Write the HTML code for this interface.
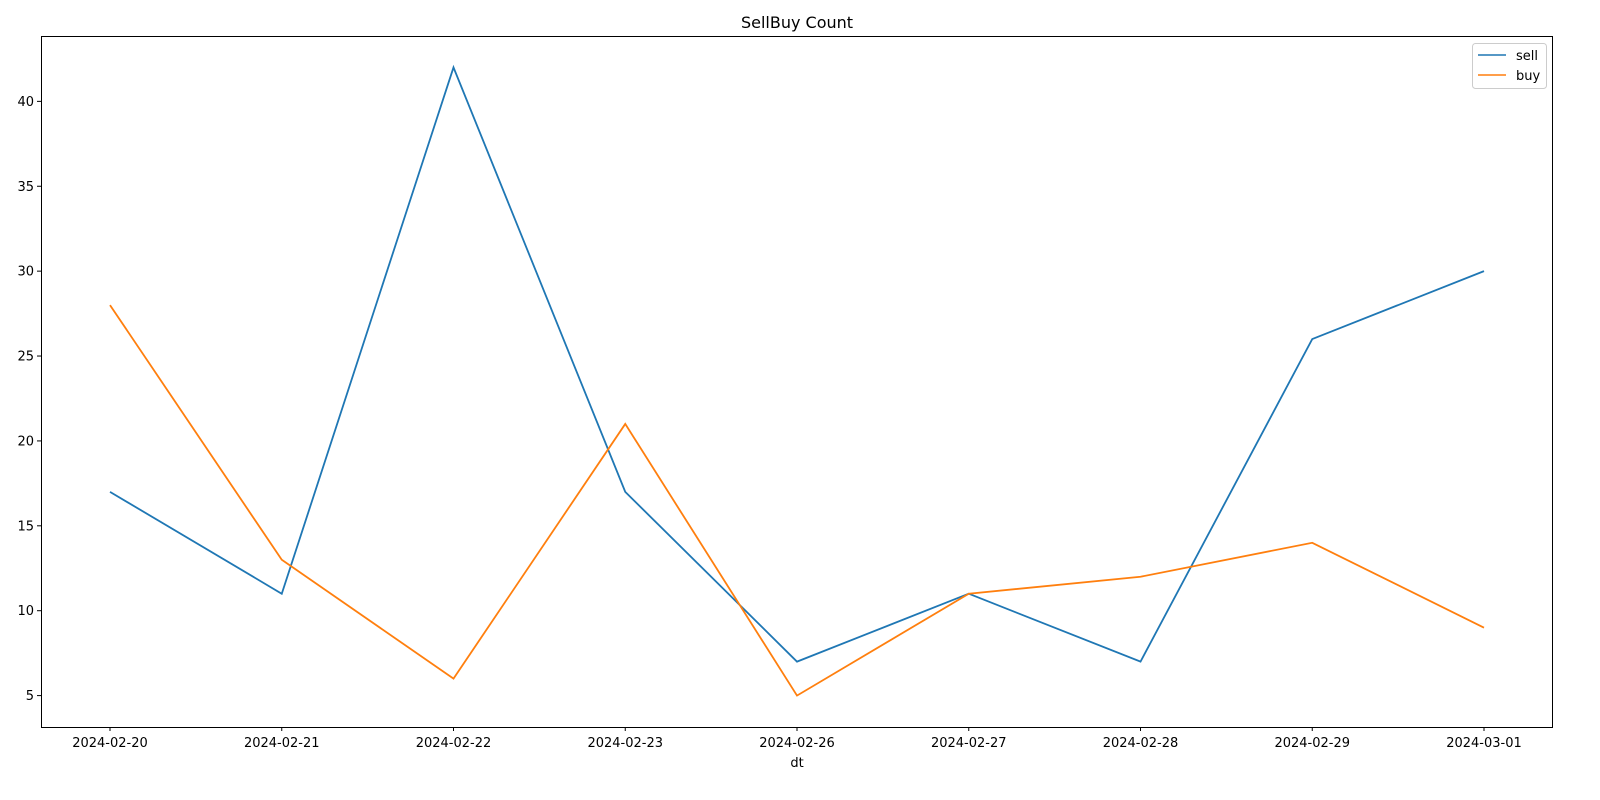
<!DOCTYPE html>
<html><head><meta charset="utf-8"><style>
html,body{margin:0;padding:0;background:#fff;overflow:hidden;width:1600px;height:800px}
svg{display:block}
svg text{font-family:"DejaVu Sans","Liberation Sans",sans-serif}
</style></head><body>
<svg id="chart" width="1600" height="800">
<rect x="0" y="0" width="1600" height="800" fill="#fff"/>
<text x="797" y="28" font-size="16" text-anchor="middle">SellBuy Count</text>
<g id="grid"></g>
<g id="series"></g>
<rect x="41.5" y="36.5" width="1511" height="691" fill="none" stroke="#000" stroke-width="1"/>
<text x="797" y="767" font-size="13" text-anchor="middle">dt</text>
<g>
<rect x="1472.5" y="43.5" width="74" height="45" rx="3" fill="#fff" stroke="#ccc"/>
<line x1="1478" y1="55" x2="1506" y2="55" stroke="#1f77b4" stroke-width="1.5"/>
<text x="1516" y="60" font-size="13">sell</text>
<line x1="1478" y1="75" x2="1506" y2="75" stroke="#ff7f0e" stroke-width="1.5"/>
<text x="1516" y="80" font-size="13">buy</text>
</g>
</svg>
<script>
const categories=["2024-02-20","2024-02-21","2024-02-22","2024-02-23","2024-02-26","2024-02-27","2024-02-28","2024-02-29","2024-03-01"];
const sellValues=[17,11,42,17,7,11,7,26,30];
const buyValues=[28,13,6,21,5,11,12,14,9];
const yTicks=[5,10,15,20,25,30,35,40];
const NS="http://www.w3.org/2000/svg";
const xLeft=110,xRight=1484,yMin=3.15,yMax=43.85,yTop=36,yBot=727;
function xs(i){return xLeft+(xRight-xLeft)*i/(categories.length-1);}
function ys(v){return yBot-(v-yMin)/(yMax-yMin)*(yBot-yTop);}
const g=document.getElementById('grid');
yTicks.forEach(t=>{
const y=ys(t);
const l=document.createElementNS(NS,'line');
l.setAttribute('x1',37);l.setAttribute('x2',41);l.setAttribute('y1',y);l.setAttribute('y2',y);l.setAttribute('stroke','#000');


g.appendChild(l);
const tx=document.createElementNS(NS,'text');
tx.setAttribute('x',34);tx.setAttribute('y',y+4.5);tx.setAttribute('font-size','13');tx.setAttribute('text-anchor','end');
tx.textContent=t;


g.appendChild(tx);
});
categories.forEach((c,i)=>{
const x=xs(i);
const l=document.createElementNS(NS,'line');
l.setAttribute('x1',x);l.setAttribute('x2',x);l.setAttribute('y1',727);l.setAttribute('y2',731);l.setAttribute('stroke','#000');


g.appendChild(l);
const tx=document.createElementNS(NS,'text');
tx.setAttribute('x',x);tx.setAttribute('y',747);tx.setAttribute('font-size','13');tx.setAttribute('text-anchor','middle');
tx.textContent=c;


g.appendChild(tx);
});
const s=document.getElementById('series');
function draw(vals,color,name){
const p=document.createElementNS(NS,'polyline');
p.setAttribute('points',vals.map((v,i)=>xs(i)+','+ys(v)).join(' '));
p.setAttribute('fill','none');p.setAttribute('stroke',color);p.setAttribute('stroke-width','1.8');


s.appendChild(p);
}
draw(sellValues,'#1f77b4','sell-line');
draw(buyValues,'#ff7f0e','buy-line');
</script>
</body></html>
